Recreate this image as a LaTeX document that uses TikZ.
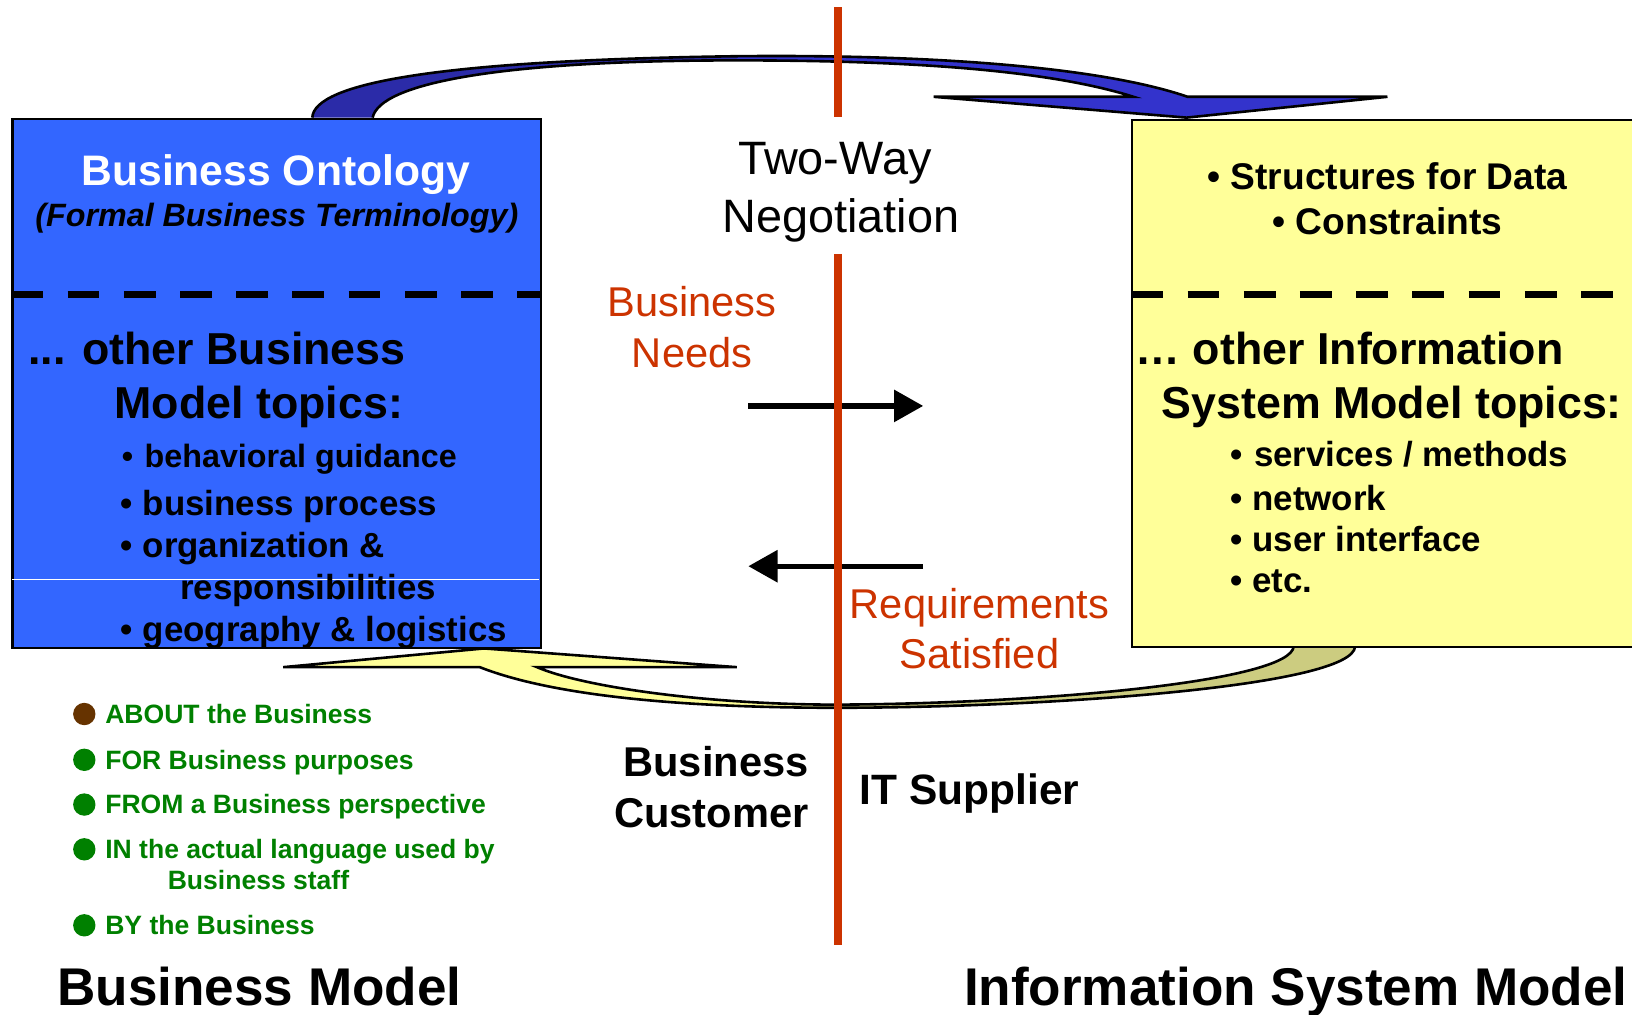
\documentclass[tikz,border=0pt]{standalone}
\usepackage{fontspec}
\setmainfont{Liberation Sans}
\usetikzlibrary{arrows.meta}
\definecolor{boxblue}{HTML}{3366FF}
\definecolor{boxyellow}{HTML}{FFFF99}
\definecolor{arrblue}{HTML}{3333CC}
\definecolor{arrbluedk}{HTML}{2B2BA8}
\definecolor{arrkhaki}{HTML}{CCCC80}
\definecolor{redline}{HTML}{CC3300}
\definecolor{listgreen}{HTML}{008000}
\definecolor{listbrown}{HTML}{663300}
\newcommand{\fsz}[1]{\fontsize{#1}{#1}\selectfont}
\tikzset{
  txt/.style={inner sep=0pt, anchor=base},
  wtxt/.style={inner sep=0pt, anchor=base west},
  boxnode/.style={draw=black, line width=2pt, inner sep=0pt, anchor=north west},
  divider/.style={line width=7pt, dash pattern=on 30.5pt off 23.5pt},
  redbar/.style={draw=redline, line width=7pt},
  flowarrow/.style={line width=5pt, -{Triangle[length=28pt,width=30pt]}},
  bigoutline/.style={draw=black, line width=2.5pt, line join=miter},
  dot/.style={circle, inner sep=0pt, minimum size=21.5pt},
}
\begin{document}
\begin{tikzpicture}[x=1pt,y=-1pt]
\useasboundingbox (0,0) rectangle (1568,975);

% ---------- top blue curved arrow ----------
\fill[arrbluedk] (300,113) .. controls (302,80) and (420,58) .. (708,54)
  -- (708,58) .. controls (480,58) and (365,80) .. (358,113) -- cycle;
\fill[arrblue] (708,54) .. controls (900,52) and (1060,65) .. (1141,93)
  -- (1333,93) -- (1140,113) -- (897,93) -- (1089,93)
  .. controls (1010,68) and (880,58) .. (708,58) -- cycle;
\draw[bigoutline] (300,113) .. controls (302,80) and (420,58) .. (708,54)
  .. controls (900,52) and (1060,65) .. (1141,93)
  -- (1333,93) -- (1140,113) -- (897,93) -- (1089,93)
  .. controls (1010,68) and (880,58) .. (708,58)
  .. controls (480,58) and (365,80) .. (358,113);

% ---------- bottom yellow curved arrow ----------
\fill[arrkhaki] (1302,621) .. controls (1300,660) and (1000,680) .. (804,680)
  -- (804,677) .. controls (1000,676) and (1240,655) .. (1243,621) -- cycle;
\fill[boxyellow] (804,680) .. controls (680,680) and (540,672) .. (461,641)
  -- (272,641) -- (465,623) -- (708,641) -- (516,641)
  .. controls (560,660) and (680,677) .. (804,677) -- cycle;
\draw[bigoutline] (1302,621) .. controls (1300,660) and (1000,680) .. (804,680)
  .. controls (680,680) and (540,672) .. (461,641)
  -- (272,641) -- (465,623) -- (708,641) -- (516,641)
  .. controls (560,660) and (680,677) .. (804,677)
  .. controls (1000,676) and (1240,655) .. (1243,621);

% ---------- boxes ----------
\node[boxnode, fill=boxblue, minimum width=508pt, minimum height=509pt] (lbox) at (11,113) {};
\node[boxnode, fill=boxyellow, minimum width=500pt, minimum height=507pt] (rbox) at (1087,114) {};
\coordinate (ld1) at (11,283);
\coordinate (ld2) at (519,283);
\coordinate (rd1) at (1087,283);
\coordinate (rd2) at (1568,283);
\draw[divider] (ld1) -- (ld2);
\draw[divider] (rd1) -- (rd2);
\coordinate (lw1) at (12,557);
\coordinate (lw2) at (518,557);
\draw[white, line width=0.8pt] (lw1) -- (lw2);

% ---------- left box text ----------
\node[txt, font=\fsz{41}\bfseries, text=white] (bo) at (265,178) {Business Ontology};
\node[txt, font=\fsz{31}\bfseries\itshape] (fbt) at (266,218) {(Formal Business Terminology)};
\node[wtxt, font=\fsz{43}\bfseries] (lb1) at (27,350) {... other Business};
\node[wtxt, font=\fsz{43}\bfseries] (lb2) at (110,402) {Model topics:};
\node[wtxt, font=\fsz{31}\bfseries] (lb3) at (117,449) {•\hspace{11pt}behavioral guidance};
\node[wtxt, font=\fsz{33.5}\bfseries] (lb4) at (116,495) {• business process};
\node[wtxt, font=\fsz{33.5}\bfseries] (lb5) at (116,536) {• organization \&};
\node[wtxt, font=\fsz{33.5}\bfseries] (lb6) at (173,576) {responsibilities};
\node[wtxt, font=\fsz{33.5}\bfseries] (lb7) at (116,616) {• geography \& logistics};

% ---------- right box text ----------
\node[txt, font=\fsz{35.7}\bfseries] (rs1) at (1333,182) {• Structures for Data};
\node[txt, font=\fsz{35.7}\bfseries] (rs2) at (1333,225) {• Constraints};
\node[wtxt, font=\fsz{43}\bfseries] (rb1) at (1091,350) {… other Information};
\node[wtxt, font=\fsz{43}\bfseries] (rb2) at (1116,402) {System Model topics:};
\node[wtxt, font=\fsz{33.5}\bfseries] (rb3) at (1182,448) {•\hspace{11pt}services / methods};
\node[wtxt, font=\fsz{33.5}\bfseries] (rb4) at (1182,490) {• network};
\node[wtxt, font=\fsz{33.5}\bfseries] (rb5) at (1182,530) {• user interface};
\node[wtxt, font=\fsz{33.5}\bfseries] (rb6) at (1182,569) {• etc.};

% ---------- middle ----------
\node[txt, font=\fsz{45}] (tw1) at (802,168) {Two-Way};
\node[txt, font=\fsz{45}] (tw2) at (808,223) {Negotiation};
\node[txt, font=\fsz{40}, text=redline] (bn1) at (665,304) {Business};
\node[txt, font=\fsz{40}, text=redline] (bn2) at (665,353) {Needs};
\node[txt, font=\fsz{40}, text=redline] (rq1) at (941,594) {Requirements};
\node[txt, font=\fsz{40}, text=redline] (rq2) at (941,642) {Satisfied};
\coordinate (na1) at (719,390);
\coordinate (na2) at (887,390);
\coordinate (ra1) at (887,544);
\coordinate (ra2) at (719,544);
\draw[flowarrow] (na1) -- (na2);
\draw[flowarrow] (ra1) -- (ra2);

\node[txt, font=\fsz{40}\bfseries, anchor=base east] (bc1) at (777,746) {Business};
\node[txt, font=\fsz{40}\bfseries, anchor=base east] (bc2) at (777,795) {Customer};
\node[wtxt, font=\fsz{40.8}\bfseries] (its) at (826,773) {IT Supplier};

% ---------- red divider ----------
\coordinate (r1) at (805,7);
\coordinate (r2) at (805,112);
\coordinate (r3) at (805,244);
\coordinate (r4) at (805,908);
\draw[redbar] (r1) -- (r2);
\draw[redbar] (r3) -- (r4);

% ---------- green list ----------
\node[dot, fill=listbrown] (d1) at (81,686) {};
\node[dot, fill=listgreen] (d2) at (81,730) {};
\node[dot, fill=listgreen] (d3) at (81,773) {};
\node[dot, fill=listgreen] (d4) at (81,816) {};
\node[dot, fill=listgreen] (d5) at (81,889) {};
\node[wtxt, font=\fsz{25.5}\bfseries, text=listgreen] (g1) at (101,695) {ABOUT the Business};
\node[wtxt, font=\fsz{25.5}\bfseries, text=listgreen] (g2) at (101,739) {FOR Business purposes};
\node[wtxt, font=\fsz{25.5}\bfseries, text=listgreen] (g3) at (101,782) {FROM a Business perspective};
\node[wtxt, font=\fsz{25.5}\bfseries, text=listgreen] (g4) at (101,825) {IN the actual language used by};
\node[wtxt, font=\fsz{25.5}\bfseries, text=listgreen] (g5) at (161,855) {Business staff};
\node[wtxt, font=\fsz{25.5}\bfseries, text=listgreen] (g6) at (101,898) {BY the Business};

% ---------- titles ----------
\node[wtxt, font=\fsz{51}\bfseries] (t1) at (55,966) {Business Model};
\node[wtxt, font=\fsz{51}\bfseries] (t2) at (926,966) {Information System Model};
\end{tikzpicture}
\end{document}
